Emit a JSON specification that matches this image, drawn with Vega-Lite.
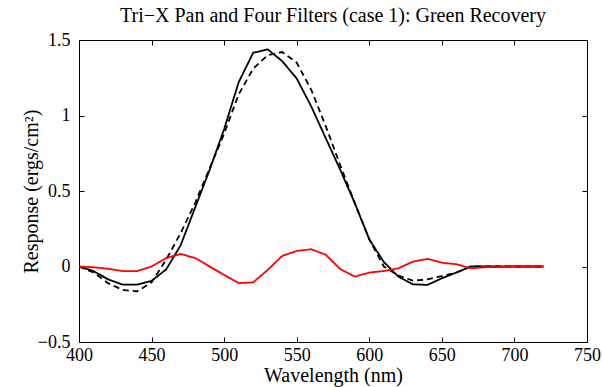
{
  "$schema": "https://vega.github.io/schema/vega-lite/v6.json",
  "autosize": "none",
  "width": 508,
  "height": 302,
  "padding": {"left": 79, "top": 40, "right": 15, "bottom": 45},
  "background": "white",
  "config": {
    "view": {"stroke": "black", "strokeWidth": 1},
    "font": "Liberation Serif",
    "axis": {"grid": false, "domain": false, "tickColor": "black", "tickSize": -5, "labelColor": "black", "labelFont": "Liberation Serif", "labelFontSize": 18, "titleFont": "Liberation Serif", "titleFontSize": 20, "titleFontWeight": "normal", "titleColor": "black", "labelFlush": false}
  },
  "title": {"text": "Tri−X Pan and Four Filters (case 1): Green Recovery", "font": "Liberation Serif", "fontSize": 20, "fontWeight": "normal", "color": "black", "offset": 5},
  "data": {"values": [
    {"w":400,"v":0,"s":"a"},{"w":410,"v":-0.03,"s":"a"},{"w":420,"v":-0.085,"s":"a"},{"w":430,"v":-0.12,"s":"a"},{"w":440,"v":-0.12,"s":"a"},{"w":450,"v":-0.095,"s":"a"},{"w":460,"v":-0.02,"s":"a"},{"w":470,"v":0.14,"s":"a"},{"w":480,"v":0.39,"s":"a"},{"w":490,"v":0.64,"s":"a"},{"w":500,"v":0.91,"s":"a"},{"w":510,"v":1.22,"s":"a"},{"w":520,"v":1.415,"s":"a"},{"w":530,"v":1.438,"s":"a"},{"w":540,"v":1.36,"s":"a"},{"w":550,"v":1.245,"s":"a"},{"w":560,"v":1.06,"s":"a"},{"w":570,"v":0.85,"s":"a"},{"w":580,"v":0.64,"s":"a"},{"w":590,"v":0.42,"s":"a"},{"w":600,"v":0.18,"s":"a"},{"w":610,"v":0.03,"s":"a"},{"w":620,"v":-0.067,"s":"a"},{"w":630,"v":-0.118,"s":"a"},{"w":640,"v":-0.122,"s":"a"},{"w":650,"v":-0.078,"s":"a"},{"w":660,"v":-0.04,"s":"a"},{"w":670,"v":0,"s":"a"},{"w":680,"v":0,"s":"a"},{"w":690,"v":0,"s":"a"},{"w":700,"v":0,"s":"a"},{"w":710,"v":0,"s":"a"},{"w":720,"v":0,"s":"a"},
    {"w":400,"v":0,"s":"b"},{"w":410,"v":-0.04,"s":"b"},{"w":420,"v":-0.11,"s":"b"},{"w":430,"v":-0.155,"s":"b"},{"w":440,"v":-0.165,"s":"b"},{"w":450,"v":-0.105,"s":"b"},{"w":460,"v":0.045,"s":"b"},{"w":470,"v":0.22,"s":"b"},{"w":480,"v":0.42,"s":"b"},{"w":490,"v":0.65,"s":"b"},{"w":500,"v":0.88,"s":"b"},{"w":510,"v":1.14,"s":"b"},{"w":520,"v":1.31,"s":"b"},{"w":530,"v":1.4,"s":"b"},{"w":540,"v":1.42,"s":"b"},{"w":550,"v":1.35,"s":"b"},{"w":560,"v":1.17,"s":"b"},{"w":570,"v":0.93,"s":"b"},{"w":580,"v":0.67,"s":"b"},{"w":590,"v":0.42,"s":"b"},{"w":600,"v":0.18,"s":"b"},{"w":610,"v":0.0,"s":"b"},{"w":620,"v":-0.06,"s":"b"},{"w":630,"v":-0.094,"s":"b"},{"w":640,"v":-0.085,"s":"b"},{"w":650,"v":-0.063,"s":"b"},{"w":660,"v":-0.04,"s":"b"},{"w":670,"v":0,"s":"b"},{"w":680,"v":0,"s":"b"},{"w":690,"v":0,"s":"b"},{"w":700,"v":0,"s":"b"},{"w":710,"v":0,"s":"b"},{"w":720,"v":0,"s":"b"},
    {"w":400,"v":0,"s":"c"},{"w":410,"v":-0.005,"s":"c"},{"w":420,"v":-0.015,"s":"c"},{"w":430,"v":-0.03,"s":"c"},{"w":440,"v":-0.03,"s":"c"},{"w":450,"v":0.0,"s":"c"},{"w":460,"v":0.056,"s":"c"},{"w":470,"v":0.083,"s":"c"},{"w":480,"v":0.056,"s":"c"},{"w":490,"v":0,"s":"c"},{"w":500,"v":-0.056,"s":"c"},{"w":510,"v":-0.11,"s":"c"},{"w":520,"v":-0.105,"s":"c"},{"w":530,"v":-0.023,"s":"c"},{"w":540,"v":0.07,"s":"c"},{"w":550,"v":0.103,"s":"c"},{"w":560,"v":0.114,"s":"c"},{"w":570,"v":0.078,"s":"c"},{"w":580,"v":-0.017,"s":"c"},{"w":590,"v":-0.067,"s":"c"},{"w":600,"v":-0.04,"s":"c"},{"w":610,"v":-0.03,"s":"c"},{"w":620,"v":-0.012,"s":"c"},{"w":630,"v":0.032,"s":"c"},{"w":640,"v":0.05,"s":"c"},{"w":650,"v":0.025,"s":"c"},{"w":660,"v":0.015,"s":"c"},{"w":670,"v":-0.012,"s":"c"},{"w":680,"v":-0.005,"s":"c"},{"w":690,"v":-0.003,"s":"c"},{"w":700,"v":0,"s":"c"},{"w":710,"v":0,"s":"c"},{"w":720,"v":0,"s":"c"}
  ]},
  "layer": [
    {
      "mark": {"type": "line", "strokeWidth": 1.8, "clip": true},
      "encoding": {
        "x": {"field": "w", "type": "quantitative", "scale": {"domain": [400, 750], "nice": false, "zero": false}, "axis": {"orient": "bottom", "values": [400,450,500,550,600,650,700,750], "format": "d", "title": "Wavelength (nm)", "titlePadding": 1, "titleBaseline": "top", "labelPadding": 9, "labelFont": "Liberation Serif", "labelFontSize": 18, "titleFont": "Liberation Serif", "titleFontSize": 20, "labelFlush": false}},
        "y": {"field": "v", "type": "quantitative", "scale": {"domain": [-0.5, 1.5], "nice": false, "zero": false}, "axis": {"orient": "left", "values": [-0.5,0,0.5,1,1.5], "format": "~g", "title": "Response (ergs/cm²)", "titlePadding": -4, "labelPadding": 14, "labelFont": "Liberation Serif", "labelFontSize": 18, "titleFont": "Liberation Serif", "titleFontSize": 20, "labelFlush": false}},
        "color": {"field": "s", "type": "nominal", "scale": {"domain": ["a","b","c"], "range": ["#000000","#000000","#ff0000"]}, "legend": null},
        "strokeDash": {"field": "s", "type": "nominal", "scale": {"domain": ["a","b","c"], "range": [[1,0],[6,4],[1,0]]}, "legend": null}
      }
    },
    {
      "mark": {"type": "line", "opacity": 0},
      "encoding": {
        "x": {"field": "w", "type": "quantitative", "scale": {"domain": [400, 750], "nice": false, "zero": false}, "axis": {"orient": "top", "values": [450,500,550,600,650,700], "labels": false, "title": null}},
        "y": {"field": "v", "type": "quantitative", "scale": {"domain": [-0.5, 1.5], "nice": false, "zero": false}, "axis": {"orient": "right", "values": [0,0.5,1], "labels": false, "title": null}},
        "detail": {"field": "s"}
      }
    }
  ],
  "resolve": {"axis": {"x": "independent", "y": "independent"}}
}
